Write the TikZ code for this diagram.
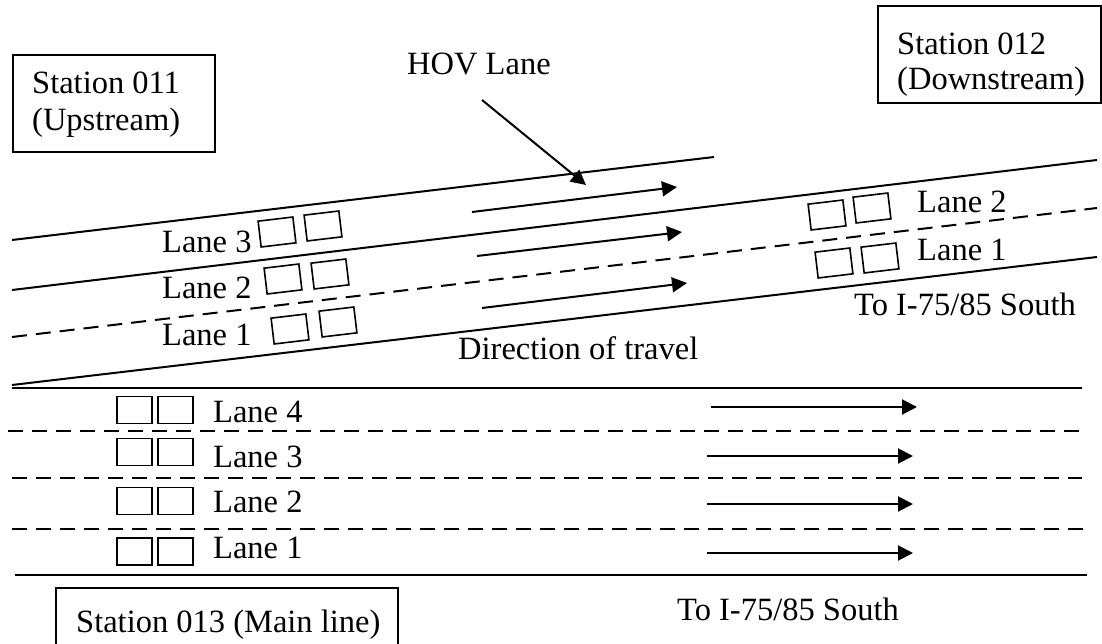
\documentclass[tikz,border=0pt]{standalone}
\usepackage{fontspec}
\setmainfont{Liberation Serif}
\usetikzlibrary{arrows.meta}
\begin{document}
\begin{tikzpicture}[x=1pt,y=-1pt,
  road/.style={line width=2pt},
  laneline/.style={line width=2pt,dash pattern=on 15pt off 9pt},
  flow/.style={line width=2pt,-{Triangle[length=15pt,width=15pt]}},
  stbox/.style={draw,line width=2pt,inner sep=0pt,anchor=north west},
  det/.style={draw,line width=1.6pt,inner sep=0pt,minimum width=35pt,minimum height=26pt},
  sdet/.style={det,rotate=6.8},
  txt/.style={inner sep=0pt,anchor=base west,font=\fontsize{32.5}{38}\selectfont}]
\useasboundingbox (0,0) rectangle (1102,644);

% station boxes
\node[stbox,minimum width=202pt,minimum height=97pt] (s11) at (12,54) {};
\node[stbox,minimum width=223pt,minimum height=97pt] (s12) at (877,5) {};
\node[stbox,minimum width=342pt,minimum height=80pt] (s13) at (55,587) {};
\node[txt] (s11a) at (32,94) {Station 011};
\node[txt] (s11b) at (32,131) {(Upstream)};
\node[txt] (s12a) at (897,55) {Station 012};
\node[txt] (s12b) at (897,90) {(Downstream)};
\node[txt] (s13a) at (76,632) {Station 013 (Main line)};

% ramp (sloped) lines
\coordinate (t1) at (12,240);  \coordinate (t2) at (714,157);
\coordinate (a1) at (12,290);  \coordinate (a2) at (1097,160);
\coordinate (d1) at (12,337);  \coordinate (d2) at (1097,208);
\coordinate (b1) at (12,385);  \coordinate (b2) at (1097,257);
\draw[road] (t1) -- (t2);
\draw[road] (a1) -- (a2);
\draw[laneline] (d1) -- (d2);
\draw[road] (b1) -- (b2);

% main line
\coordinate (m1) at (12,388);  \coordinate (m2) at (1082,388);
\coordinate (n1) at (8,431);   \coordinate (n2) at (1079,431);
\coordinate (o1) at (12,478);  \coordinate (o2) at (1082,478);
\coordinate (p1) at (12,529);  \coordinate (p2) at (1084,529);
\coordinate (q1) at (15,575);  \coordinate (q2) at (1087,575);
\draw[road] (m1) -- (m2);
\draw[laneline] (n1) -- (n2);
\draw[laneline] (o1) -- (o2);
\draw[laneline] (p1) -- (p2);
\draw[road] (q1) -- (q2);

% ramp flow arrows
\coordinate (fa1) at (472,212); \coordinate (fa2) at (677,187);
\coordinate (fb1) at (477,256); \coordinate (fb2) at (682,232);
\coordinate (fc1) at (482,308); \coordinate (fc2) at (687,283);
\draw[flow] (fa1) -- (fa2);
\draw[flow] (fb1) -- (fb2);
\draw[flow] (fc1) -- (fc2);

% main flow arrows
\coordinate (ga1) at (711,407); \coordinate (ga2) at (917,407);
\coordinate (gb1) at (707,456); \coordinate (gb2) at (913,456);
\coordinate (gc1) at (707,504); \coordinate (gc2) at (913,504);
\coordinate (gd1) at (707,553); \coordinate (gd2) at (913,553);
\draw[flow] (ga1) -- (ga2);
\draw[flow] (gb1) -- (gb2);
\draw[flow] (gc1) -- (gc2);
\draw[flow] (gd1) -- (gd2);

% HOV label and pointer
\node[txt] (hov) at (407,75) {HOV Lane};
\coordinate (hovs) at (482,100);
\coordinate (hovt) at (586,185);
\draw[flow] (hovs) -- (hovt);

% ramp detectors (upstream)
\node[sdet] (u3a) at (277,232) {};
\node[sdet] (u3b) at (323,226) {};
\node[sdet] (u2a) at (283,279) {};
\node[sdet] (u2b) at (330,274) {};
\node[sdet] (u1a) at (290,329) {};
\node[sdet] (u1b) at (338,322) {};
% ramp detectors (downstream)
\node[sdet] (r2a) at (827,215) {};
\node[sdet] (r2b) at (872,208) {};
\node[sdet] (r1a) at (834,263) {};
\node[sdet] (r1b) at (880,258) {};
% main line detectors
\node[det,minimum height=27pt] (k4a) at (134.5,410) {};
\node[det,minimum height=27pt] (k4b) at (175.5,410) {};
\node[det,minimum height=27pt] (k3a) at (134.5,452) {};
\node[det,minimum height=27pt] (k3b) at (175.5,452) {};
\node[det,minimum height=27pt] (k2a) at (134.5,501) {};
\node[det,minimum height=27pt] (k2b) at (175.5,501) {};
\node[det,minimum height=27pt] (k1a) at (134.5,551.5) {};
\node[det,minimum height=27pt] (k1b) at (175.5,551.5) {};

% lane labels
\node[txt] (ul3) at (162,252) {Lane 3};
\node[txt] (ul2) at (162,298) {Lane 2};
\node[txt] (ul1) at (162,345) {Lane 1};
\node[txt] (rl2) at (917,213) {Lane 2};
\node[txt] (rl1) at (917,260) {Lane 1};
\node[txt] (rto) at (854,315) {To I-75/85 South};
\node[txt] (dir) at (458,359) {Direction of travel};
\node[txt] (ml4) at (213,422) {Lane 4};
\node[txt] (ml3) at (213,467) {Lane 3};
\node[txt] (ml2) at (213,512) {Lane 2};
\node[txt] (ml1) at (213,558) {Lane 1};
\node[txt] (mto) at (677,620) {To I-75/85 South};
\end{tikzpicture}
\end{document}
